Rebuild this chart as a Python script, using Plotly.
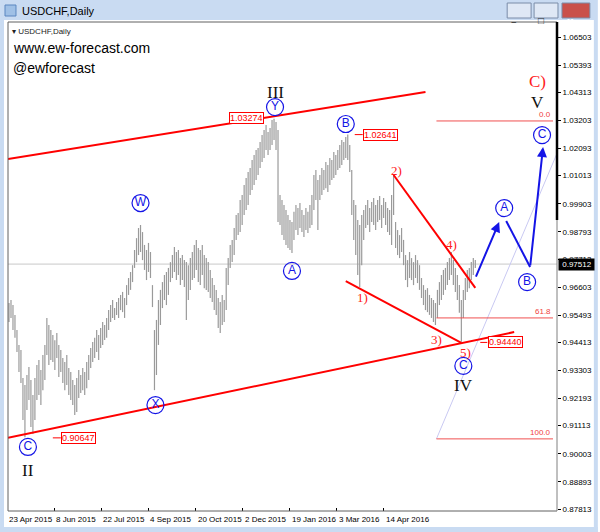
import plotly.graph_objects as go

# ---------------- data ----------------
HIGHS = [
    0.9597, 0.9609, 0.9589, 0.9550, 0.9490, 0.9431, 0.9411, 0.9300, 0.9272, 0.9312,
    0.9344, 0.9292, 0.9233, 0.9300, 0.9352, 0.9371, 0.9332, 0.9391, 0.9431, 0.9538,
    0.9510, 0.9490, 0.9470, 0.9450, 0.9478, 0.9431, 0.9411, 0.9379, 0.9363, 0.9391,
    0.9340, 0.9324, 0.9292, 0.9272, 0.9300, 0.9332, 0.9312, 0.9340, 0.9324, 0.9363,
    0.9391, 0.9419, 0.9443, 0.9459, 0.9490, 0.9470, 0.9498, 0.9522, 0.9510, 0.9538,
    0.9569, 0.9589, 0.9609, 0.9577, 0.9601, 0.9617, 0.9629, 0.9641, 0.9617, 0.9668,
    0.9696, 0.9720, 0.9747, 0.9807, 0.9854, 0.9894, 0.9906, 0.9878, 0.9827, 0.9807,
    0.9835, 0.9799, 0.9668, 0.9490, 0.9530, 0.9609, 0.9649, 0.9680, 0.9708, 0.9720,
    0.9736, 0.9759, 0.9787, 0.9819, 0.9799, 0.9807, 0.9775, 0.9787, 0.9767, 0.9759,
    0.9747, 0.9775, 0.9799, 0.9827, 0.9847, 0.9815, 0.9807, 0.9827, 0.9787, 0.9775,
    0.9759, 0.9728, 0.9696, 0.9668, 0.9649, 0.9617, 0.9601, 0.9629, 0.9609, 0.9736,
    0.9775, 0.9827, 0.9847, 0.9894, 0.9946, 0.9954, 1.0005, 1.0025, 1.0064, 1.0092,
    1.0116, 1.0132, 1.0163, 1.0183, 1.0203, 1.0211, 1.0235, 1.0262, 1.0282, 1.0302,
    1.0274, 1.0290, 1.0322, 1.0327, 1.0314, 1.0282, 1.0025, 1.0005, 0.9985, 0.9965,
    0.9946, 0.9926, 0.9918, 0.9958, 0.9985, 0.9973, 0.9993, 0.9965, 0.9946, 0.9973,
    0.9958, 0.9985, 1.0025, 1.0104, 1.0124, 1.0084, 1.0104, 1.0132, 1.0124, 1.0155,
    1.0144, 1.0171, 1.0163, 1.0195, 1.0183, 1.0203, 1.0223, 1.0243, 1.0235, 1.0254,
    1.0264, 1.0223, 1.0124, 1.0005, 0.9985, 0.9926, 0.9906, 0.9946, 0.9965, 0.9985,
    1.0005, 0.9973, 0.9997, 1.0013, 0.9985, 1.0005, 1.0021, 0.9985, 1.0013, 0.9997,
    0.9973, 0.9965, 1.0025, 1.0104, 0.9918, 0.9886, 0.9866, 0.9894, 0.9847, 0.9787,
    0.9767, 0.9799, 0.9775, 0.9759, 0.9787, 0.9767, 0.9747, 0.9696, 0.9668, 0.9649,
    0.9656, 0.9629, 0.9617, 0.9609, 0.9597, 0.9649, 0.9680, 0.9708, 0.9728, 0.9736,
    0.9759, 0.9775, 0.9799, 0.9767, 0.9736, 0.9708, 0.9668, 0.9609, 0.9649, 0.9696,
    0.9728, 0.9736, 0.9759, 0.9775, 0.9767,
]
LOWS = [
    0.9522, 0.9538, 0.9490, 0.9459, 0.9403, 0.9324, 0.9280, 0.9134, 0.9065, 0.9173,
    0.9213, 0.9106, 0.9078, 0.9134, 0.9213, 0.9233, 0.9193, 0.9252, 0.9292, 0.9391,
    0.9352, 0.9371, 0.9363, 0.9332, 0.9379, 0.9304, 0.9324, 0.9280, 0.9252, 0.9272,
    0.9233, 0.9213, 0.9193, 0.9154, 0.9165, 0.9221, 0.9241, 0.9252, 0.9233, 0.9260,
    0.9292, 0.9340, 0.9363, 0.9379, 0.9403, 0.9371, 0.9419, 0.9431, 0.9451, 0.9459,
    0.9490, 0.9522, 0.9538, 0.9530, 0.9550, 0.9538, 0.9569, 0.9561, 0.9538, 0.9589,
    0.9629, 0.9649, 0.9680, 0.9736, 0.9759, 0.9787, 0.9799, 0.9767, 0.9728, 0.9688,
    0.9720, 0.9696, 0.9581, 0.9252, 0.9312, 0.9431, 0.9510, 0.9577, 0.9609, 0.9589,
    0.9629, 0.9680, 0.9696, 0.9720, 0.9688, 0.9708, 0.9668, 0.9688, 0.9660, 0.9530,
    0.9609, 0.9649, 0.9688, 0.9696, 0.9728, 0.9680, 0.9668, 0.9708, 0.9656, 0.9649,
    0.9641, 0.9617, 0.9601, 0.9569, 0.9550, 0.9498, 0.9478, 0.9510, 0.9522, 0.9569,
    0.9668, 0.9736, 0.9759, 0.9787, 0.9847, 0.9866, 0.9878, 0.9906, 0.9946, 0.9965,
    0.9985, 1.0025, 1.0045, 1.0064, 1.0084, 1.0104, 1.0132, 1.0155, 1.0171, 1.0203,
    1.0183, 1.0203, 1.0223, 1.0243, 1.0203, 0.9918, 0.9906, 0.9866, 0.9847, 0.9827,
    0.9815, 0.9807, 0.9795, 0.9847, 0.9886, 0.9866, 0.9894, 0.9878, 0.9858, 0.9886,
    0.9874, 0.9894, 0.9906, 0.9965, 1.0005, 0.9886, 1.0005, 1.0025, 1.0045, 1.0052,
    1.0037, 1.0064, 1.0084, 1.0092, 1.0104, 1.0124, 1.0132, 1.0144, 1.0163, 1.0171,
    1.0163, 1.0116, 0.9946, 0.9847, 0.9787, 0.9708, 0.9660, 0.9747, 0.9847, 0.9894,
    0.9906, 0.9878, 0.9918, 0.9906, 0.9886, 0.9918, 0.9926, 0.9894, 0.9934, 0.9906,
    0.9878, 0.9866, 0.9827, 0.9946, 0.9815, 0.9787, 0.9775, 0.9799, 0.9747, 0.9688,
    0.9660, 0.9696, 0.9688, 0.9668, 0.9696, 0.9676, 0.9649, 0.9617, 0.9589, 0.9569,
    0.9561, 0.9550, 0.9538, 0.9522, 0.9510, 0.9538, 0.9589, 0.9609, 0.9629, 0.9649,
    0.9668, 0.9688, 0.9708, 0.9668, 0.9641, 0.9609, 0.9558, 0.9444, 0.9538, 0.9609,
    0.9641, 0.9656, 0.9688, 0.9708, 0.9736,
]

Y_TICKS = [1.06503, 1.05393, 1.04313, 1.03203, 1.02093, 1.01013, 0.99903, 0.98793,
           0.97713, 0.96603, 0.95493, 0.94413, 0.93303, 0.92193, 0.91113, 0.90003,
           0.88893, 0.87813]
Y_TICK_TEXT = ["1.06503", "1.05393", "1.04313", "1.03203", "1.02093", "1.01013", "0.99903",
               "0.98793", "0.97713", "0.96603", "0.95493", "0.94413", "0.93303", "0.92193",
               "0.91113", "0.90003", "0.88893", "0.87813"]
DATE_LABELS = ["23 Apr 2015", "8 Jun 2015", "22 Jul 2015", "4 Sep 2015", "20 Oct 2015",
               "2 Dec 2015", "19 Jan 2016", "3 Mar 2016", "14 Apr 2016"]
DATE_POS = [-1.0, 22.65, 46.35, 70.0, 93.65, 117.35, 141.0, 164.5, 188.0]
LAST_PRICE = 0.97512

# marked prices
PRICE_TAGS = [("1.03274", 119.25, 1.0328, None),
              ("1.02641", 186.25, 1.0264, (173.5, 177.5)),
              ("0.90647", 35.0, 0.9063, (22.0, 26.0)),
              ("0.94440", 249.0, 0.9441, (236.5, 240.0))]
FIB_START = 214.5
FIB_END = 273.0
FIB_LEVELS = [("0.0", 1.0318), ("61.8", 0.9538), ("100.0", 0.9059)]

# trendlines (bar index, price)
CHANNEL_UP = ([-0.5, 209.0], [1.0167, 1.0433])
CHANNEL_DN = ([-0.5, 253.5], [0.9063, 0.9482])
WEDGE_LOW = ([169.0, 227.0], [0.9684, 0.9439])
WEDGE_HIGH = ([193.0, 234.0], [1.0104, 0.9657])
FAN_LINE = ([214.5, 275.5], [0.9059, 1.0199])
PROJ_PATH = ([234.0, 246.0, 249.5, 261.5, 268.0], [0.9696, 0.9918, 0.9922, 0.9740, 1.0215])

CIRCLE_LABELS = [("W", 66.0, 0.9993), ("X", 73.5, 0.9193), ("Y", 133.5, 1.0373),
                 ("A", 142.0, 0.9724), ("B", 169.0, 1.0306), ("C", 9.5, 0.9027),
                 ("C", 228.0, 0.9348), ("A", 248.5, 0.9973), ("B", 260.0, 0.9680),
                 ("C", 267.5, 1.0262)]
ROMAN_LABELS = [("II", 9.5, 0.8932), ("III", 133.5, 1.0432), ("IV", 228.0, 0.9272),
                ("V", 265.0, 1.0393)]
RED_LABELS = [("C)", 265.0, 1.0476, 17), ("1)", 177.5, 0.9617, 13), ("2)", 194.5, 1.0120, 13),
              ("3)", 214.5, 0.9451, 13), ("4)", 222.0, 0.9827, 13), ("5)", 229.0, 0.9400, 13)]

# ---------------- layout geometry ----------------
W, H = 600, 532
L, R, T, B = 8, 41, 22, 21
PW, PH = W - L - R, H - T - B
XR = [-0.5, 275.0]
YR = [0.87734, 1.07099]


def px(x):
    return (x - L) / PW


def py(y):
    return (H - B - y) / PH


def bar_to_paper(k):
    return (k - XR[0]) / (XR[1] - XR[0])


RED = "#ff0000"
BLUE = "#1414e6"
fig = go.Figure()

# current price line
fig.add_trace(go.Scatter(x=XR, y=[LAST_PRICE, LAST_PRICE], mode="lines",
                         line=dict(color="#c8c8c8", width=1), hoverinfo="skip"))

# price bars
bx, by = [], []
for i, (h, l) in enumerate(zip(HIGHS, LOWS)):
    bx += [i, i, None]
    by += [l, h, None]
fig.add_trace(go.Scatter(x=bx, y=by, mode="lines", line=dict(color="#9a9a9a", width=1.2),
                         hoverinfo="skip"))

# fan line
fig.add_trace(go.Scatter(x=FAN_LINE[0], y=FAN_LINE[1], mode="lines",
                         line=dict(color="#c9c9f2", width=1), hoverinfo="skip"))

# fib levels
for name, lvl in FIB_LEVELS:
    fig.add_trace(go.Scatter(x=[FIB_START, FIB_END], y=[lvl, lvl], mode="lines",
                             line=dict(color="#f05050", width=1), hoverinfo="skip"))

# trendlines
for ln in (CHANNEL_UP, CHANNEL_DN, WEDGE_LOW, WEDGE_HIGH):
    fig.add_trace(go.Scatter(x=ln[0], y=ln[1], mode="lines",
                             line=dict(color=RED, width=2), hoverinfo="skip"))

# price tag leader lines
for txt, xk, yv, lead in PRICE_TAGS:
    if lead:
        fig.add_trace(go.Scatter(x=list(lead), y=[yv, yv], mode="lines",
                                 line=dict(color=RED, width=1), hoverinfo="skip"))

# projection path (middle segment without arrow)
fig.add_trace(go.Scatter(x=PROJ_PATH[0][2:4], y=PROJ_PATH[1][2:4], mode="lines",
                         line=dict(color=BLUE, width=2), hoverinfo="skip"))

# circled wave labels
fig.add_trace(go.Scatter(
    x=[c[1] for c in CIRCLE_LABELS], y=[c[2] for c in CIRCLE_LABELS],
    mode="markers+text", text=[c[0] for c in CIRCLE_LABELS],
    textposition="middle center",
    textfont=dict(family="Liberation Sans", size=12, color=BLUE),
    marker=dict(symbol="circle-open", size=17, color=BLUE, line=dict(width=1.2, color=BLUE)),
    hoverinfo="skip"))

ann = []
# arrows
ann.append(dict(x=PROJ_PATH[0][1], y=PROJ_PATH[1][1], ax=PROJ_PATH[0][0], ay=PROJ_PATH[1][0],
                xref="x", yref="y", axref="x", ayref="y", text="", showarrow=True,
                arrowhead=2, arrowsize=1, arrowwidth=2, arrowcolor=BLUE))
ann.append(dict(x=PROJ_PATH[0][4], y=PROJ_PATH[1][4], ax=PROJ_PATH[0][3], ay=PROJ_PATH[1][3],
                xref="x", yref="y", axref="x", ayref="y", text="", showarrow=True,
                arrowhead=2, arrowsize=1, arrowwidth=2, arrowcolor=BLUE))

for t, xk, yv in ROMAN_LABELS:
    ann.append(dict(x=xk, y=yv, xref="x", yref="y", text=t, showarrow=False,
                    font=dict(family="Liberation Serif", size=17, color="#111111")))
for t, xk, yv, s in RED_LABELS:
    ann.append(dict(x=xk, y=yv, xref="x", yref="y", text=t, showarrow=False,
                    font=dict(family="Liberation Serif", size=s, color="#ff2020")))
for txt, xk, yv, lead in PRICE_TAGS:
    ann.append(dict(x=xk, y=yv, xref="x", yref="y", text=txt, showarrow=False,
                    font=dict(family="Liberation Sans", size=9, color=RED),
                    bgcolor="white", bordercolor=RED, borderwidth=1, borderpad=0))
for name, lvl in FIB_LEVELS:
    ann.append(dict(x=FIB_END, y=lvl, xref="x", yref="y", text=name, showarrow=False,
                    xanchor="right", yanchor="bottom",
                    font=dict(family="Liberation Sans", size=8, color="#f04040")))

# date labels
for lab, pos in zip(DATE_LABELS, DATE_POS):
    ann.append(dict(x=bar_to_paper(pos), y=py(519), xref="paper", yref="paper", text=lab,
                    showarrow=False, xanchor="left", yanchor="middle",
                    font=dict(family="Liberation Sans", size=8, color="#000000")))

# last price box
ann.append(dict(x=px(560), y=LAST_PRICE, xref="paper", yref="y", text=" 0.97512 ",
                showarrow=False, xanchor="left", yanchor="middle", bgcolor="#000000",
                font=dict(family="Liberation Sans", size=8, color="#ffffff"), borderpad=1))

# texts on the chart
ann.append(dict(x=px(11), y=py(48), xref="paper", yref="paper", text="www.ew-forecast.com",
                showarrow=False, xanchor="left", yanchor="middle",
                font=dict(family="Liberation Sans", size=14, color="#000000")))
ann.append(dict(x=px(11), y=py(68), xref="paper", yref="paper", text="@ewforecast",
                showarrow=False, xanchor="left", yanchor="middle",
                font=dict(family="Liberation Sans", size=14, color="#000000")))
ann.append(dict(x=px(10), y=py(32), xref="paper", yref="paper", text="▾ USDCHF,Daily",
                showarrow=False, xanchor="left", yanchor="middle",
                font=dict(family="Liberation Sans", size=8, color="#222222")))
# window title
ann.append(dict(x=px(20), y=py(11), xref="paper", yref="paper", text="USDCHF,Daily",
                showarrow=False, xanchor="left", yanchor="middle",
                font=dict(family="Liberation Sans", size=11, color="#000000")))
ann.append(dict(x=px(521), y=py(11), xref="paper", yref="paper", text="–",
                showarrow=False, font=dict(size=11, color="#333333")))
ann.append(dict(x=px(548), y=py(11), xref="paper", yref="paper", text="□",
                showarrow=False, font=dict(size=10, color="#333333")))
ann.append(dict(x=px(578), y=py(11), xref="paper", yref="paper", text="<b>x</b>",
                showarrow=False, font=dict(size=11, color="#ffffff")))

shapes = []
# window chrome
shapes.append(dict(type="rect", xref="paper", yref="paper", x0=px(0), x1=px(600), y0=py(0),
                   y1=py(20), fillcolor="#c9dbf2", line=dict(width=0), layer="below"))
shapes.append(dict(type="rect", xref="paper", yref="paper", x0=px(0), x1=px(4), y0=py(20),
                   y1=py(532), fillcolor="#c9dbf2", line=dict(width=0), layer="below"))
shapes.append(dict(type="rect", xref="paper", yref="paper", x0=px(596), x1=px(600), y0=py(20),
                   y1=py(532), fillcolor="#c9dbf2", line=dict(width=0), layer="below"))
shapes.append(dict(type="rect", xref="paper", yref="paper", x0=px(0), x1=px(600), y0=py(527),
                   y1=py(532), fillcolor="#c9dbf2", line=dict(width=0), layer="below"))
shapes.append(dict(type="rect", xref="paper", yref="paper", x0=px(5), x1=px(16), y0=py(5),
                   y1=py(16), fillcolor="#9fc0e6", line=dict(color="#5a86c0", width=1)))
for x0, x1, fc in ((509, 533, "#dfe8f5"), (536, 560, "#dfe8f5"), (564, 592, "#c9504a")):
    shapes.append(dict(type="rect", xref="paper", yref="paper", x0=px(x0), x1=px(x1), y0=py(3),
                       y1=py(18), fillcolor=fc, line=dict(color="#7a8ca8", width=1)))
# chart frame
shapes.append(dict(type="line", xref="paper", yref="paper", x0=0, x1=0, y0=0, y1=1,
                   line=dict(color="#606060", width=1)))
shapes.append(dict(type="line", xref="paper", yref="paper", x0=0, x1=1, y0=1, y1=1,
                   line=dict(color="#606060", width=1)))
shapes.append(dict(type="line", xref="paper", yref="paper", x0=0, x1=1, y0=0, y1=0,
                   line=dict(color="#606060", width=1)))
shapes.append(dict(type="line", xref="paper", yref="paper", x0=1, x1=1, y0=0, y1=1,
                   line=dict(color="#808080", width=1)))
shapes.append(dict(type="line", xref="paper", yref="paper", x0=1, x1=1, y0=py(220), y1=1,
                   line=dict(color="#000000", width=2.5)))

fig.update_layout(
    width=W, height=H, margin=dict(l=L, r=R, t=T, b=B),
    paper_bgcolor="#ffffff", plot_bgcolor="#ffffff", showlegend=False,
    xaxis=dict(range=XR, showgrid=False, zeroline=False, showticklabels=False,
               tickvals=DATE_POS[1:], ticks="inside", ticklen=3, tickcolor="#000000",
               showline=False, fixedrange=True),
    yaxis=dict(range=YR, side="right", showgrid=False, zeroline=False,
               tickvals=Y_TICKS, ticktext=Y_TICK_TEXT, ticks="outside", ticklen=3,
               tickcolor="#000000", tickfont=dict(family="Liberation Sans", size=8,
                                                  color="#000000"),
               showline=False, fixedrange=True),
    annotations=ann, shapes=shapes,
)

fig.write_html("out.html", config={"displayModeBar": False},
               post_script="document.body.style.margin='0px';")
